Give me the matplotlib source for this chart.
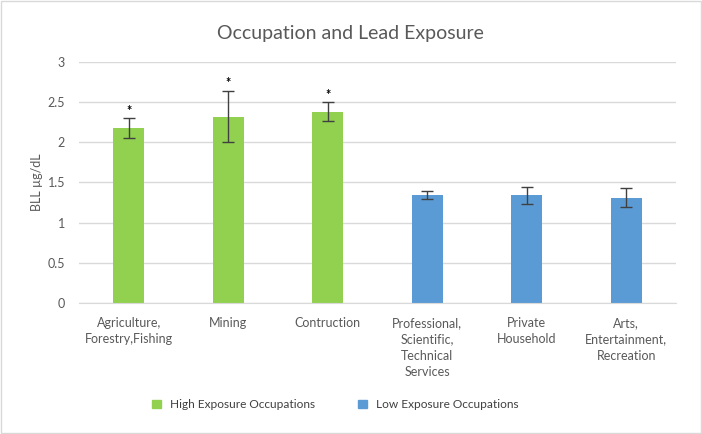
import matplotlib
matplotlib.use("Agg")
import matplotlib.pyplot as plt
from matplotlib.patches import Patch

plt.rcParams['font.family'] = ['Lato', 'DejaVu Sans']

categories = ["Agriculture,\nForestry,Fishing", "Mining", "Contruction",
              "Professional,\nScientific,\nTechnical\nServices", "Private\nHousehold",
              "Arts,\nEntertainment,\nRecreation"]
values = [2.18, 2.32, 2.38, 1.34, 1.34, 1.31]
errors = [0.12, 0.32, 0.12, 0.05, 0.11, 0.12]
groups = ["high", "high", "high", "low", "low", "low"]
significant = [True, True, True, False, False, False]
yticks = [0, 0.5, 1, 1.5, 2, 2.5, 3]
ytick_labels = ["0", "0.5", "1", "1.5", "2", "2.5", "3"]
legend_labels = {"high": "High Exposure Occupations", "low": "Low Exposure Occupations"}
colors = {"high": "#92D050", "low": "#5B9BD5"}

fig = plt.figure(figsize=(7.02, 4.34), dpi=100)
ax = fig.add_axes([0.1125, 0.302, 0.8505, 0.555])

x = list(range(len(categories)))
ax.bar(x, values, width=0.31, color=[colors[g] for g in groups], zorder=2)
ax.errorbar(x, values, yerr=errors, fmt='none', ecolor='#404040', elinewidth=1.0,
            capsize=4, capthick=1.0, zorder=3)
for xi, v, e, s in zip(x, values, errors, significant):
    if s:
        ax.text(xi, v + e + 0.02, "*", ha='center', va='bottom', fontsize=9,
                color='black', fontweight='bold')

ax.set_xlim(-0.5, len(categories) - 0.5)
ax.set_ylim(0, 3)
ax.set_yticks(yticks)
ax.set_yticklabels(ytick_labels)
ax.set_xticks(x)
ax.set_xticklabels(categories, fontsize=9, color='#595959', linespacing=1.45)
ax.tick_params(axis='y', labelsize=9, labelcolor='#595959', length=0, pad=10)
ax.tick_params(axis='x', length=0, pad=10)
ax.yaxis.grid(True, color='#D9D9D9', linewidth=1, zorder=0)
ax.set_axisbelow(True)
for sp in ['top', 'right', 'left']:
    ax.spines[sp].set_visible(False)
ax.spines['bottom'].set_color('#D9D9D9')

ax.set_ylabel("BLL µg/dL", fontsize=9, color='#595959', labelpad=3)
fig.text(0.499, 0.923, "Occupation and Lead Exposure", ha='center', va='center',
         fontsize=14, color='#595959')

handles = [Patch(color=colors[k], label=legend_labels[k]) for k in ["high", "low"]]
fig.legend(handles=handles, loc='center', bbox_to_anchor=(0.478, 0.067), ncol=2,
           frameon=False, fontsize=8.6, handlelength=0.7, handleheight=0.7,
           columnspacing=3.6, labelcolor='#404040')

border = plt.Rectangle((0.002, 0.003), 0.996, 0.994, transform=fig.transFigure,
                       fill=False, edgecolor='#D9D9D9', linewidth=1)
fig.patches.append(border)

fig.savefig("out.png", dpi=100)
